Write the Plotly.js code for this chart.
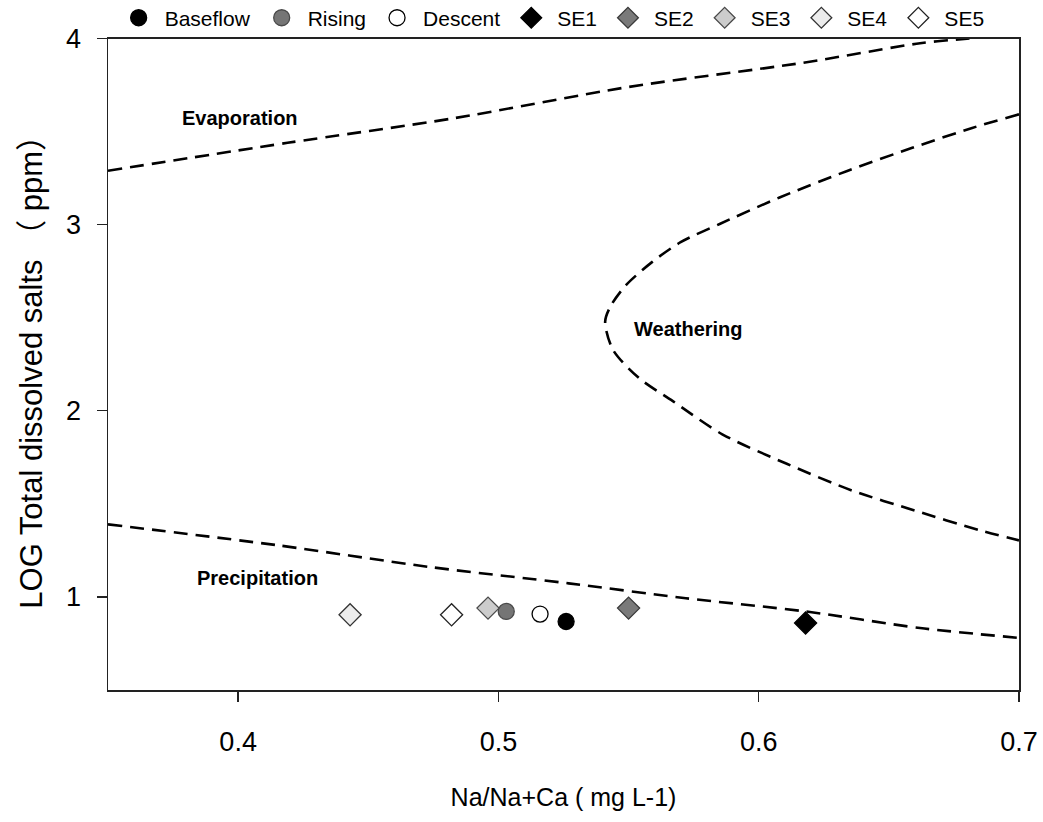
<!DOCTYPE html>
<html>
<head>
<meta charset="utf-8">
<script src="https://cdn.plot.ly/plotly-3.0.1.min.js"></script>
<style>html,body{margin:0;padding:0;background:#fff;}#chart{width:1043px;height:822px;}</style>
</head>
<body>
<div id="chart"></div>
<script>
// Sample points
const seriesNames = ["Baseflow", "Rising", "Descent", "SE1", "SE2", "SE3", "SE4", "SE5"];
const seriesX = [0.526, 0.503, 0.516, 0.618, 0.550, 0.496, 0.443, 0.482];
const seriesY = [0.868, 0.922, 0.908, 0.860, 0.940, 0.940, 0.904, 0.904];

// Gibbs boundary curves
const evapX = [0.350, 0.419, 0.482, 0.550, 0.617, 0.662, 0.680, 0.695];
const evapY = [3.290, 3.440, 3.570, 3.740, 3.870, 3.975, 4.000, 4.020];

const weathX = [0.700, 0.682, 0.659, 0.634, 0.608, 0.585, 0.570, 0.559, 0.549, 0.543, 0.541, 0.544, 0.554, 0.567, 0.586, 0.611, 0.636, 0.660, 0.685, 0.700];
const weathY = [3.593, 3.520, 3.413, 3.289, 3.146, 3.004, 2.906, 2.799, 2.675, 2.560, 2.479, 2.328, 2.176, 2.052, 1.874, 1.714, 1.571, 1.464, 1.358, 1.304];

const precX = [0.350, 0.415, 0.473, 0.527, 0.572, 0.618, 0.662, 0.700];
const precY = [1.390, 1.278, 1.162, 1.073, 0.993, 0.922, 0.833, 0.780];

const labelText = ["Evaporation", "Weathering", "Precipitation"];
const labelX = [0.4008, 0.5732, 0.4073];
const labelY = [3.573, 2.441, 1.101];

const xTicks = [0.4, 0.5, 0.6, 0.7];
const yTicks = [1, 2, 3, 4];

const styles = {
  Baseflow: {symbol: "circle", size: 16, color: "#000000", line: "#000000"},
  Rising:   {symbol: "circle", size: 16, color: "#757575", line: "#4a4a4a"},
  Descent:  {symbol: "circle", size: 16, color: "#ffffff", line: "#000000"},
  SE1:      {symbol: "diamond", size: 17, color: "#000000", line: "#000000"},
  SE2:      {symbol: "diamond", size: 17, color: "#7a7a7a", line: "#3a3a3a"},
  SE3:      {symbol: "diamond", size: 17, color: "#cccccc", line: "#4a4a4a"},
  SE4:      {symbol: "diamond", size: 17, color: "#ececec", line: "#333333"},
  SE5:      {symbol: "diamond", size: 17, color: "#ffffff", line: "#222222"}
};

const FONT = "Arial, 'Liberation Sans', sans-serif";
const lineStyle = {color: "#000", width: 2.6, dash: "14px,8px", shape: "spline", smoothing: 0.8};

const traces = [
  {x: evapX, y: evapY, mode: "lines", line: lineStyle, showlegend: false, hoverinfo: "skip"},
  {x: weathX, y: weathY, mode: "lines", line: lineStyle, showlegend: false, hoverinfo: "skip"},
  {x: precX, y: precY, mode: "lines", line: lineStyle, showlegend: false, hoverinfo: "skip"}
];
seriesNames.forEach((n, i) => {
  const s = styles[n];
  traces.push({
    x: [seriesX[i]], y: [seriesY[i]], name: n, mode: "markers", type: "scatter",
    marker: {symbol: s.symbol, size: s.size, color: s.color, line: {color: s.line, width: 1.3}}
  });
});

const annotations = labelText.map((t, i) => ({
  x: labelX[i], y: labelY[i], xref: "x", yref: "y", text: "<b>" + t + "</b>", showarrow: false,
  font: {family: FONT, size: 20, color: "#000"}
}));

const layout = {
  width: 1043, height: 822,
  margin: {l: 108, r: 24, t: 35, b: 132},
  paper_bgcolor: "#fff", plot_bgcolor: "#fff",
  showlegend: true,
  legend: {orientation: "h", xref: "container", yref: "container", x: 0.108, xanchor: "left", y: 0.978, yanchor: "middle",
           font: {family: FONT, size: 21, color: "#000"}, itemwidth: 42, bgcolor: "rgba(0,0,0,0)"},
  xaxis: {range: [0.35, 0.7], tickvals: xTicks, ticktext: xTicks.map(v => v.toFixed(1)),
          showgrid: false, zeroline: false, showline: true, mirror: true, linecolor: "#222", linewidth: 1.5,
          ticks: "outside", ticklen: 10, tickwidth: 1.3, tickcolor: "#222", ticklabelstandoff: 17,
          tickfont: {family: FONT, size: 27, color: "#000"},
          title: {text: "Na/Na+Ca ( mg L-1)", font: {family: FONT, size: 25, color: "#000"}, standoff: 32}},
  yaxis: {range: [0.5, 4], tickvals: yTicks,
          showgrid: false, zeroline: false, showline: true, mirror: true, linecolor: "#222", linewidth: 1.5,
          ticks: "outside", ticklen: 10, tickwidth: 1.3, tickcolor: "#222", ticklabelstandoff: 10,
          tickfont: {family: FONT, size: 27, color: "#000"},
          title: {text: "LOG Total dissolved salts （ ppm）", font: {family: FONT + ", 'Noto Sans CJK SC'", size: 31, color: "#000"}, standoff: 14}},
  annotations: annotations
};

Plotly.newPlot("chart", traces, layout, {displayModeBar: false, staticPlot: true});
</script>
</body>
</html>
